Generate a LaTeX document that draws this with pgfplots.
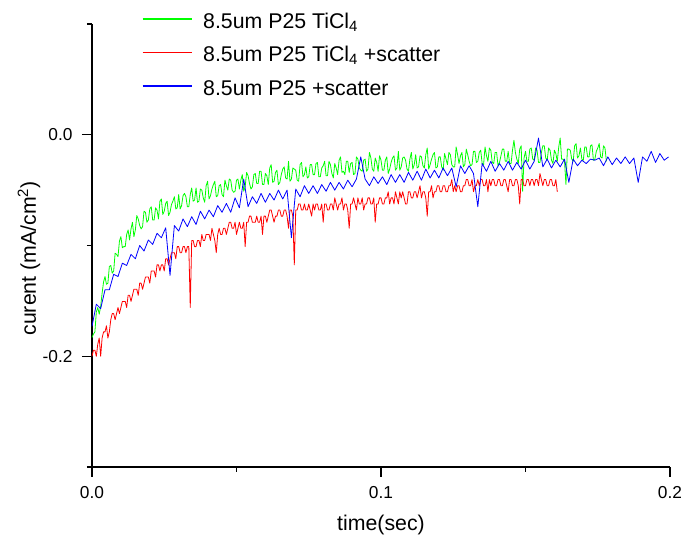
\documentclass[border=0pt]{standalone}
\usepackage{fontspec}
\setmainfont{Liberation Sans}
\usepackage{pgfplots}
\pgfplotsset{compat=1.18}
\definecolor{cgreen}{rgb}{0,1,0}
\definecolor{cred}{rgb}{1,0,0}
\definecolor{cblue}{rgb}{0,0,1}
\newcommand{\lgs}{\rule[-5.5pt]{0pt}{25.5pt}\hspace*{9pt}}
\begin{document}
\begin{tikzpicture}
\begin{axis}[
  name=ax,
  scale only axis,
  width=578pt, height=443pt,
  xmin=0, xmax=0.2, ymin=-0.3, ymax=0.1,
  axis x line*=bottom, axis y line*=left,
  axis line style={-, line width=1.3pt},
  tick align=outside,
  major tick length=10pt, minor tick length=5pt,
  every tick/.style={black, line width=1.3pt},
  xtick={0,0.1,0.2}, xticklabels={0.0,0.1,0.2},
  minor xtick={0.05,0.15},
  ytick={-0.2,0}, yticklabels={-0.2,0.0},
  minor ytick={-0.3,-0.1,0.1},
  ticklabel style={font=\fontsize{17.3}{20}\selectfont},
  xticklabel style={anchor=north, yshift=-6pt},
  yticklabel style={anchor=east, xshift=-6pt},
  xlabel={time(sec)},
  ylabel={curent (mA/cm\textsuperscript{2})},
  label style={font=\fontsize{21.3}{25}\selectfont},
  xlabel style={at={(axis description cs:0.5,-0.131)}, anchor=center},
  ylabel style={at={(axis description cs:-0.109,0.471)}, anchor=center, rotate=0},
  legend style={at={(axis description cs:0.086,1)}, anchor=north west, yshift=18pt,
    draw=none, fill=none, inner sep=0pt, row sep=8pt,
    font=\fontsize{21.3}{25}\selectfont, cells={anchor=west}},
  legend cell align=left,
  legend image code/.code={\draw[#1, line width=1.3pt] (0pt,0pt) -- (49pt,0pt);},
  clip=false,
]
\addplot[cgreen, line width=0.8pt, line join=round] table {
0.0000 -0.183
0.0005 -0.180
0.0010 -0.178
0.0015 -0.160
0.0020 -0.156
0.0025 -0.162
0.0030 -0.155
0.0035 -0.143
0.0040 -0.133
0.0045 -0.128
0.0050 -0.135
0.0055 -0.134
0.0060 -0.119
0.0065 -0.118
0.0070 -0.125
0.0075 -0.123
0.0080 -0.107
0.0085 -0.108
0.0090 -0.110
0.0095 -0.096
0.0100 -0.092
0.0105 -0.102
0.0110 -0.101
0.0115 -0.101
0.0120 -0.090
0.0125 -0.086
0.0130 -0.095
0.0135 -0.085
0.0140 -0.079
0.0145 -0.092
0.0150 -0.086
0.0155 -0.073
0.0160 -0.076
0.0165 -0.082
0.0170 -0.085
0.0175 -0.083
0.0180 -0.069
0.0185 -0.070
0.0190 -0.079
0.0195 -0.077
0.0200 -0.067
0.0205 -0.065
0.0210 -0.077
0.0215 -0.077
0.0220 -0.066
0.0225 -0.068
0.0230 -0.076
0.0235 -0.060
0.0240 -0.058
0.0245 -0.072
0.0250 -0.069
0.0255 -0.062
0.0260 -0.060
0.0265 -0.073
0.0270 -0.070
0.0275 -0.063
0.0280 -0.060
0.0285 -0.056
0.0290 -0.067
0.0295 -0.066
0.0300 -0.054
0.0305 -0.067
0.0310 -0.064
0.0315 -0.055
0.0320 -0.053
0.0325 -0.056
0.0330 -0.065
0.0335 -0.065
0.0340 -0.054
0.0345 -0.048
0.0350 -0.060
0.0355 -0.059
0.0360 -0.048
0.0365 -0.061
0.0370 -0.060
0.0375 -0.049
0.0380 -0.050
0.0385 -0.057
0.0390 -0.061
0.0395 -0.046
0.0400 -0.042
0.0405 -0.058
0.0410 -0.055
0.0415 -0.049
0.0420 -0.045
0.0425 -0.042
0.0430 -0.056
0.0435 -0.055
0.0440 -0.046
0.0445 -0.045
0.0450 -0.054
0.0455 -0.056
0.0460 -0.041
0.0465 -0.046
0.0470 -0.050
0.0475 -0.040
0.0480 -0.041
0.0485 -0.050
0.0490 -0.052
0.0495 -0.051
0.0500 -0.041
0.0505 -0.040
0.0510 -0.049
0.0515 -0.041
0.0520 -0.036
0.0525 -0.051
0.0530 -0.047
0.0535 -0.034
0.0540 -0.037
0.0545 -0.044
0.0550 -0.049
0.0555 -0.047
0.0560 -0.036
0.0565 -0.035
0.0570 -0.044
0.0575 -0.044
0.0580 -0.033
0.0585 -0.033
0.0590 -0.045
0.0595 -0.045
0.0600 -0.035
0.0605 -0.037
0.0610 -0.045
0.0615 -0.030
0.0620 -0.027
0.0625 -0.043
0.0630 -0.042
0.0635 -0.034
0.0640 -0.032
0.0645 -0.045
0.0650 -0.043
0.0655 -0.036
0.0660 -0.031
0.0665 -0.029
0.0670 -0.039
0.0675 -0.040
0.0680 -0.024
0.0685 -0.042
0.0690 -0.040
0.0695 -0.030
0.0700 -0.031
0.0705 -0.032
0.0710 -0.041
0.0715 -0.042
0.0720 -0.027
0.0725 -0.025
0.0730 -0.038
0.0735 -0.036
0.0740 -0.029
0.0745 -0.039
0.0750 -0.038
0.0755 -0.027
0.0760 -0.027
0.0765 -0.036
0.0770 -0.036
0.0775 -0.026
0.0780 -0.025
0.0785 -0.038
0.0790 -0.038
0.0795 -0.030
0.0800 -0.028
0.0805 -0.024
0.0810 -0.037
0.0815 -0.037
0.0820 -0.024
0.0825 -0.027
0.0830 -0.035
0.0835 -0.039
0.0840 -0.026
0.0845 -0.030
0.0850 -0.036
0.0855 -0.023
0.0860 -0.020
0.0865 -0.034
0.0870 -0.033
0.0875 -0.036
0.0880 -0.024
0.0885 -0.024
0.0890 -0.034
0.0895 -0.026
0.0900 -0.025
0.0905 -0.036
0.0910 -0.035
0.0915 -0.020
0.0920 -0.022
0.0925 -0.030
0.0930 -0.032
0.0935 -0.033
0.0940 -0.023
0.0945 -0.022
0.0950 -0.033
0.0955 -0.031
0.0960 -0.016
0.0965 -0.021
0.0970 -0.031
0.0975 -0.033
0.0980 -0.021
0.0985 -0.025
0.0990 -0.033
0.0995 -0.019
0.1000 -0.023
0.1005 -0.032
0.1010 -0.032
0.1015 -0.023
0.1020 -0.020
0.1025 -0.035
0.1030 -0.031
0.1035 -0.025
0.1040 -0.021
0.1045 -0.019
0.1050 -0.032
0.1055 -0.030
0.1060 -0.015
0.1065 -0.032
0.1070 -0.029
0.1075 -0.021
0.1080 -0.020
0.1085 -0.023
0.1090 -0.031
0.1095 -0.033
0.1100 -0.022
0.1105 -0.016
0.1110 -0.031
0.1115 -0.027
0.1120 -0.018
0.1125 -0.030
0.1130 -0.029
0.1135 -0.019
0.1140 -0.020
0.1145 -0.028
0.1150 -0.030
0.1155 -0.018
0.1160 -0.012
0.1165 -0.031
0.1170 -0.027
0.1175 -0.022
0.1180 -0.018
0.1185 -0.016
0.1190 -0.030
0.1195 -0.029
0.1200 -0.020
0.1205 -0.020
0.1210 -0.029
0.1215 -0.032
0.1220 -0.017
0.1225 -0.022
0.1230 -0.027
0.1235 -0.016
0.1240 -0.018
0.1245 -0.027
0.1250 -0.029
0.1255 -0.029
0.1260 -0.011
0.1265 -0.018
0.1270 -0.026
0.1275 -0.019
0.1280 -0.016
0.1285 -0.029
0.1290 -0.027
0.1295 -0.013
0.1300 -0.018
0.1305 -0.024
0.1310 -0.028
0.1315 -0.027
0.1320 -0.015
0.1325 -0.015
0.1330 -0.025
0.1335 -0.024
0.1340 -0.016
0.1345 -0.014
0.1350 -0.026
0.1355 -0.027
0.1360 -0.011
0.1365 -0.019
0.1370 -0.024
0.1375 -0.012
0.1380 -0.014
0.1385 -0.025
0.1390 -0.026
0.1395 -0.016
0.1400 -0.016
0.1405 -0.028
0.1410 -0.025
0.1415 -0.019
0.1420 -0.013
0.1425 -0.013
0.1430 -0.024
0.1435 -0.024
0.1440 -0.015
0.1445 -0.026
0.1450 -0.026
0.1455 -0.014
0.1460 -0.005
0.1465 -0.016
0.1470 -0.022
0.1475 -0.026
0.1480 -0.013
0.1485 -0.010
0.1490 -0.051
0.1495 -0.021
0.1500 -0.015
0.1505 -0.024
0.1510 -0.024
0.1515 -0.013
0.1520 -0.012
0.1525 -0.022
0.1530 -0.023
0.1535 -0.012
0.1540 -0.014
0.1545 -0.025
0.1550 -0.025
0.1555 -0.016
0.1560 -0.010
0.1565 -0.010
0.1570 -0.021
0.1575 -0.023
0.1580 -0.012
0.1585 -0.014
0.1590 -0.023
0.1595 -0.026
0.1600 -0.014
0.1605 -0.017
0.1610 -0.024
0.1615 -0.011
0.1620 -0.003
0.1625 -0.022
0.1630 -0.022
0.1635 -0.024
0.1640 -0.045
0.1645 -0.013
0.1650 -0.013
0.1655 -0.014
0.1660 -0.022
0.1665 -0.024
0.1670 -0.010
0.1675 -0.008
0.1680 -0.021
0.1685 -0.019
0.1690 -0.012
0.1695 -0.022
0.1700 -0.023
0.1705 -0.011
0.1710 -0.011
0.1715 -0.020
0.1720 -0.020
0.1725 -0.010
0.1730 -0.009
0.1735 -0.023
0.1740 -0.022
0.1745 -0.015
0.1750 -0.012
0.1755 -0.008
0.1760 -0.020
0.1765 -0.021
0.1770 -0.010
0.1775 -0.012
0.1780 -0.024
};
\addlegendentry{\lgs 8.5um P25 TiCl\textsubscript{4}}
\addplot[cred, line width=0.8pt, line join=round] table {
0.0000 -0.2000
0.0005 -0.1945
0.0010 -0.1945
0.0015 -0.2000
0.0020 -0.1890
0.0025 -0.1835
0.0030 -0.2000
0.0035 -0.1835
0.0040 -0.1780
0.0045 -0.1780
0.0050 -0.1725
0.0055 -0.1835
0.0060 -0.1780
0.0065 -0.1670
0.0070 -0.1615
0.0075 -0.1615
0.0080 -0.1670
0.0085 -0.1615
0.0090 -0.1560
0.0095 -0.1615
0.0100 -0.1560
0.0105 -0.1505
0.0110 -0.1505
0.0115 -0.1505
0.0120 -0.1560
0.0125 -0.1450
0.0130 -0.1450
0.0135 -0.1505
0.0140 -0.1450
0.0145 -0.1395
0.0150 -0.1395
0.0155 -0.1395
0.0160 -0.1450
0.0165 -0.1340
0.0170 -0.1340
0.0175 -0.1395
0.0180 -0.1340
0.0185 -0.1285
0.0190 -0.1285
0.0195 -0.1285
0.0200 -0.1340
0.0205 -0.1230
0.0210 -0.1230
0.0215 -0.1230
0.0220 -0.1285
0.0225 -0.1175
0.0230 -0.1175
0.0235 -0.1230
0.0240 -0.1175
0.0245 -0.1175
0.0250 -0.1230
0.0255 -0.1120
0.0260 -0.1120
0.0265 -0.1175
0.0270 -0.1120
0.0275 -0.1065
0.0280 -0.1065
0.0285 -0.1065
0.0290 -0.1120
0.0295 -0.1010
0.0300 -0.1010
0.0305 -0.1065
0.0310 -0.1065
0.0315 -0.1010
0.0320 -0.1010
0.0325 -0.1065
0.0330 -0.1010
0.0335 -0.1010
0.0340 -0.1560
0.0345 -0.0955
0.0350 -0.0955
0.0355 -0.1010
0.0360 -0.1010
0.0365 -0.0955
0.0370 -0.0955
0.0375 -0.1010
0.0380 -0.0900
0.0385 -0.0955
0.0390 -0.0955
0.0395 -0.0900
0.0400 -0.0900
0.0405 -0.0900
0.0410 -0.0955
0.0415 -0.0845
0.0420 -0.0900
0.0425 -0.0955
0.0430 -0.1065
0.0435 -0.0900
0.0440 -0.0845
0.0445 -0.0900
0.0450 -0.0900
0.0455 -0.0845
0.0460 -0.0845
0.0465 -0.0900
0.0470 -0.0845
0.0475 -0.0790
0.0480 -0.0790
0.0485 -0.0845
0.0490 -0.0845
0.0495 -0.0790
0.0500 -0.0900
0.0505 -0.0845
0.0510 -0.0790
0.0515 -0.0845
0.0520 -0.0845
0.0525 -0.0790
0.0530 -0.1010
0.0535 -0.0790
0.0540 -0.0790
0.0545 -0.0735
0.0550 -0.0735
0.0555 -0.0790
0.0560 -0.0790
0.0565 -0.0790
0.0570 -0.0735
0.0575 -0.0790
0.0580 -0.0790
0.0585 -0.0735
0.0590 -0.0900
0.0595 -0.0735
0.0600 -0.0735
0.0605 -0.0790
0.0610 -0.0735
0.0615 -0.0680
0.0620 -0.0680
0.0625 -0.0735
0.0630 -0.0790
0.0635 -0.0735
0.0640 -0.0735
0.0645 -0.0680
0.0650 -0.0680
0.0655 -0.0735
0.0660 -0.0735
0.0665 -0.0680
0.0670 -0.0680
0.0675 -0.0735
0.0680 -0.0845
0.0685 -0.0680
0.0690 -0.0680
0.0695 -0.0735
0.0700 -0.1175
0.0705 -0.0680
0.0710 -0.0680
0.0715 -0.0625
0.0720 -0.0625
0.0725 -0.0680
0.0730 -0.0680
0.0735 -0.0625
0.0740 -0.0680
0.0745 -0.0680
0.0750 -0.0625
0.0755 -0.0680
0.0760 -0.0735
0.0765 -0.0625
0.0770 -0.0680
0.0775 -0.0625
0.0780 -0.0625
0.0785 -0.0680
0.0790 -0.0680
0.0795 -0.0625
0.0800 -0.0790
0.0805 -0.0625
0.0810 -0.0625
0.0815 -0.0680
0.0820 -0.0680
0.0825 -0.0625
0.0830 -0.0625
0.0835 -0.0680
0.0840 -0.0570
0.0845 -0.0625
0.0850 -0.0680
0.0855 -0.0625
0.0860 -0.0625
0.0865 -0.0570
0.0870 -0.0680
0.0875 -0.0625
0.0880 -0.0625
0.0885 -0.0680
0.0890 -0.0845
0.0895 -0.0625
0.0900 -0.0625
0.0905 -0.0570
0.0910 -0.0625
0.0915 -0.0680
0.0920 -0.0570
0.0925 -0.0625
0.0930 -0.0625
0.0935 -0.0570
0.0940 -0.0680
0.0945 -0.0625
0.0950 -0.0625
0.0955 -0.0570
0.0960 -0.0570
0.0965 -0.0625
0.0970 -0.0625
0.0975 -0.0570
0.0980 -0.0790
0.0985 -0.0625
0.0990 -0.0625
0.0995 -0.0570
0.1000 -0.0570
0.1005 -0.0625
0.1010 -0.0625
0.1015 -0.0570
0.1020 -0.0570
0.1025 -0.0515
0.1030 -0.0625
0.1035 -0.0570
0.1040 -0.0570
0.1045 -0.0625
0.1050 -0.0515
0.1055 -0.0570
0.1060 -0.0625
0.1065 -0.0515
0.1070 -0.0570
0.1075 -0.0515
0.1080 -0.0570
0.1085 -0.0625
0.1090 -0.0625
0.1095 -0.0515
0.1100 -0.0515
0.1105 -0.0570
0.1110 -0.0570
0.1115 -0.0515
0.1120 -0.0515
0.1125 -0.0570
0.1130 -0.0515
0.1135 -0.0460
0.1140 -0.0570
0.1145 -0.0515
0.1150 -0.0515
0.1155 -0.0570
0.1160 -0.0735
0.1165 -0.0515
0.1170 -0.0515
0.1175 -0.0460
0.1180 -0.0570
0.1185 -0.0515
0.1190 -0.0515
0.1195 -0.0460
0.1200 -0.0460
0.1205 -0.0515
0.1210 -0.0515
0.1215 -0.0460
0.1220 -0.0460
0.1225 -0.0515
0.1230 -0.0515
0.1235 -0.0460
0.1240 -0.0460
0.1245 -0.0405
0.1250 -0.0515
0.1255 -0.0460
0.1260 -0.0515
0.1265 -0.0460
0.1270 -0.0460
0.1275 -0.0515
0.1280 -0.0515
0.1285 -0.0460
0.1290 -0.0460
0.1295 -0.0405
0.1300 -0.0405
0.1305 -0.0460
0.1310 -0.0460
0.1315 -0.0405
0.1320 -0.0515
0.1325 -0.0460
0.1330 -0.0460
0.1335 -0.0405
0.1340 -0.0460
0.1345 -0.0405
0.1350 -0.0405
0.1355 -0.0460
0.1360 -0.0460
0.1365 -0.0405
0.1370 -0.0515
0.1375 -0.0405
0.1380 -0.0460
0.1385 -0.0405
0.1390 -0.0405
0.1395 -0.0460
0.1400 -0.0460
0.1405 -0.0405
0.1410 -0.0405
0.1415 -0.0460
0.1420 -0.0460
0.1425 -0.0405
0.1430 -0.0405
0.1435 -0.0460
0.1440 -0.0515
0.1445 -0.0405
0.1450 -0.0405
0.1455 -0.0460
0.1460 -0.0460
0.1465 -0.0405
0.1470 -0.0405
0.1475 -0.0460
0.1480 -0.0625
0.1485 -0.0405
0.1490 -0.0405
0.1495 -0.0460
0.1500 -0.0460
0.1505 -0.0405
0.1510 -0.0405
0.1515 -0.0460
0.1520 -0.0405
0.1525 -0.0405
0.1530 -0.0460
0.1535 -0.0405
0.1540 -0.0405
0.1545 -0.0460
0.1550 -0.0350
0.1555 -0.0405
0.1560 -0.0460
0.1565 -0.0405
0.1570 -0.0405
0.1575 -0.0460
0.1580 -0.0460
0.1585 -0.0405
0.1590 -0.0405
0.1595 -0.0460
0.1600 -0.0460
0.1605 -0.0405
0.1610 -0.0515
};
\addlegendentry{\lgs 8.5um P25 TiCl\textsubscript{4} +scatter}
\addplot[cblue, line width=0.8pt, line join=round] table {
0.0000 -0.173
0.0015 -0.153
0.0030 -0.157
0.0045 -0.140
0.0060 -0.140
0.0075 -0.126
0.0090 -0.128
0.0105 -0.116
0.0120 -0.118
0.0135 -0.108
0.0150 -0.112
0.0165 -0.100
0.0180 -0.105
0.0195 -0.095
0.0210 -0.099
0.0225 -0.089
0.0240 -0.093
0.0255 -0.084
0.0270 -0.127
0.0285 -0.082
0.0300 -0.087
0.0315 -0.076
0.0330 -0.083
0.0345 -0.074
0.0360 -0.081
0.0375 -0.069
0.0390 -0.076
0.0405 -0.068
0.0420 -0.074
0.0435 -0.064
0.0450 -0.070
0.0465 -0.062
0.0480 -0.070
0.0495 -0.057
0.0510 -0.066
0.0525 -0.040
0.0540 -0.065
0.0555 -0.056
0.0570 -0.062
0.0585 -0.053
0.0600 -0.061
0.0615 -0.053
0.0630 -0.059
0.0645 -0.050
0.0660 -0.058
0.0675 -0.050
0.0690 -0.093
0.0705 -0.049
0.0720 -0.056
0.0735 -0.046
0.0750 -0.053
0.0765 -0.046
0.0780 -0.053
0.0795 -0.045
0.0810 -0.051
0.0825 -0.043
0.0840 -0.050
0.0855 -0.043
0.0870 -0.049
0.0885 -0.041
0.0900 -0.047
0.0915 -0.040
0.0930 -0.020
0.0945 -0.040
0.0960 -0.046
0.0975 -0.038
0.0990 -0.044
0.1005 -0.038
0.1020 -0.045
0.1035 -0.036
0.1050 -0.043
0.1065 -0.036
0.1080 -0.043
0.1095 -0.034
0.1110 -0.041
0.1125 -0.033
0.1140 -0.041
0.1155 -0.031
0.1170 -0.039
0.1185 -0.032
0.1200 -0.039
0.1215 -0.030
0.1230 -0.037
0.1245 -0.030
0.1260 -0.047
0.1275 -0.028
0.1290 -0.035
0.1305 -0.028
0.1320 -0.035
0.1335 -0.065
0.1350 -0.026
0.1365 -0.033
0.1380 -0.024
0.1395 -0.033
0.1410 -0.026
0.1425 -0.032
0.1440 -0.024
0.1455 -0.032
0.1470 -0.025
0.1485 -0.031
0.1500 -0.023
0.1515 -0.031
0.1530 -0.024
0.1545 -0.003
0.1560 -0.029
0.1575 -0.022
0.1590 -0.030
0.1605 -0.023
0.1620 -0.029
0.1635 -0.022
0.1650 -0.043
0.1665 -0.022
0.1680 -0.028
0.1695 -0.023
0.1710 -0.026
0.1725 -0.022
0.1740 -0.023
0.1755 -0.021
0.1770 -0.028
0.1785 -0.020
0.1800 -0.027
0.1815 -0.021
0.1830 -0.026
0.1845 -0.020
0.1860 -0.026
0.1875 -0.021
0.1890 -0.043
0.1905 -0.020
0.1920 -0.024
0.1935 -0.015
0.1950 -0.025
0.1965 -0.017
0.1980 -0.023
0.1995 -0.020
};
\addlegendentry{\lgs 8.5um P25 +scatter}
\end{axis}
\path (ax.south west) ++(-92pt,-73pt) rectangle ++(686pt,540pt);
\end{tikzpicture}
\end{document}
